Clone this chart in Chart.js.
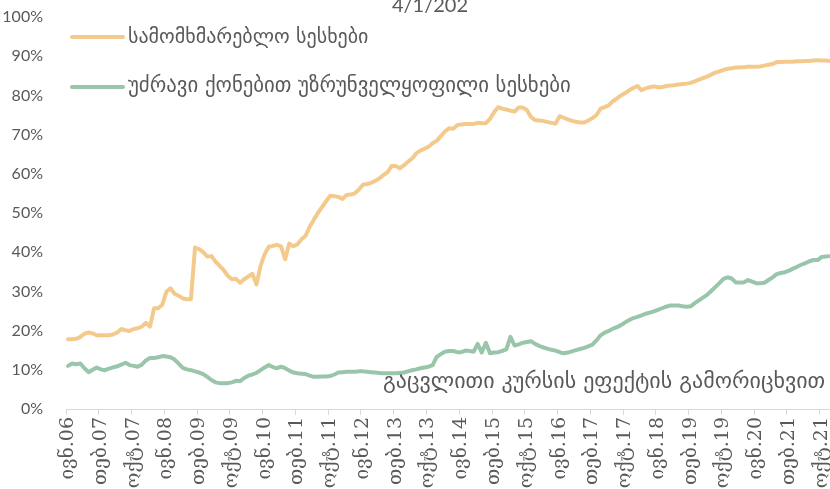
<!DOCTYPE html>
<html>
<head>
<meta charset="utf-8">
<script src="https://cdn.jsdelivr.net/npm/chart.js@4"></script>
<style>
  html, body { margin: 0; padding: 0; background: #fff; overflow: hidden; }
  #wrap { position: relative; width: 830px; height: 489px; overflow: hidden; }
  #chart { position: absolute; left: 0; top: 0; }
  .txt { position: absolute; white-space: nowrap; color: #595959; font-family: "DejaVu Sans", sans-serif; }
  .swatch { position: absolute; width: 55px; height: 4px; border-radius: 2px; }
</style>
</head>
<body>
<div id="wrap">
  <canvas id="chart" width="834" height="489"></canvas>
  <div class="txt" id="title" style="left:0;width:860px;text-align:center;top:-8px;font-family:Lato, sans-serif;font-size:20px;">4/1/202</div>
  <div class="swatch" id="sw1" style="left:70px;top:35px;"></div>
  <div class="txt" id="lg1" style="left:128px;top:24px;font-size:20px;"></div>
  <div class="swatch" id="sw2" style="left:70px;top:85px;"></div>
  <div class="txt" id="lg2" style="left:128px;top:73px;font-size:20.8px;"></div>
  <div class="txt" id="note" style="left:383px;top:368px;font-size:22px;">გაცვლითი კურსის ეფექტის გამორიცხვით</div>
</div>
<script>
// სერიების სახელები და ფერები
const seriesNames = ['სამომხმარებლო სესხები', 'უძრავი ქონებით უზრუნველყოფილი სესხები'];
const seriesColors = ['#f4ca8c', '#99c5ab'];

// თვეები (ივნ.2006 - დეკ.2021), ნიშნული ყოველ მე-8 თვეზე
const monthNames = ['იან', 'თებ', 'მარ', 'აპრ', 'მაი', 'ივნ', 'ივლ', 'აგვ', 'სექ', 'ოქტ', 'ნოე', 'დეკ'];
const startYear = 2006, startMonth = 5, monthCount = 187, labelStep = 8;

// სამომხმარებლო სესხები (%)
const consumer = [
  17.8, 17.8, 17.9, 18.4, 19.2, 19.5, 19.3, 18.8, 18.8, 18.8,
  18.8, 19.0, 19.5, 20.4, 20.1, 19.9, 20.4, 20.6, 21.0, 22.0,
  21.0, 25.7, 25.7, 26.6, 29.9, 30.8, 29.4, 28.9, 28.2, 28.0,
  28.0, 41.2, 40.8, 40.0, 38.9, 39.0, 37.6, 36.5, 35.4, 34.0,
  33.1, 33.2, 32.2, 33.1, 33.8, 34.5, 31.8, 36.5, 39.5, 41.4,
  41.6, 41.9, 41.5, 38.2, 42.2, 41.5, 42.0, 43.3, 44.2, 46.5,
  48.3, 50.0, 51.5, 53.0, 54.4, 54.3, 54.1, 53.6, 54.6, 54.7,
  55.0, 56.0, 57.2, 57.4, 57.7, 58.2, 58.8, 59.7, 60.4, 62.0,
  62.0, 61.4, 62.2, 63.1, 63.9, 65.2, 65.9, 66.4, 66.9, 67.8,
  68.4, 69.6, 70.8, 71.6, 71.5, 72.4, 72.6, 72.7, 72.7, 72.7,
  73.0, 72.9, 72.9, 74.0, 75.7, 77.0, 76.6, 76.4, 76.1, 75.9,
  76.9, 76.9, 76.3, 74.5, 73.7, 73.6, 73.5, 73.2, 73.0, 72.8,
  74.7, 74.3, 73.9, 73.5, 73.3, 73.1, 73.1, 73.6, 74.2, 75.0,
  76.6, 77.0, 77.5, 78.5, 79.2, 80.0, 80.6, 81.3, 81.9, 82.4,
  81.3, 81.8, 82.1, 82.3, 82.1, 82.1, 82.4, 82.5, 82.6, 82.8,
  82.9, 83.0, 83.2, 83.6, 84.0, 84.4, 84.8, 85.3, 85.8, 86.1,
  86.5, 86.8, 86.9, 87.1, 87.1, 87.2, 87.3, 87.3, 87.3, 87.4,
  87.6, 87.8, 88.0, 88.5, 88.5, 88.6, 88.6, 88.6, 88.7, 88.7,
  88.8, 88.8, 88.9, 89.0, 88.9, 88.9, 88.8
];

// უძრავი ქონებით უზრუნველყოფილი სესხები (%)
const mortgage = [
  11.0, 11.6, 11.4, 11.6, 10.4, 9.4, 10.0, 10.6, 10.1, 9.9,
  10.3, 10.6, 10.9, 11.3, 11.8, 11.2, 11.0, 10.8, 11.3, 12.4,
  13.0, 13.0, 13.2, 13.5, 13.4, 13.2, 12.6, 11.6, 10.5, 10.1,
  9.9, 9.6, 9.3, 8.9, 8.2, 7.4, 6.8, 6.6, 6.6, 6.6,
  6.8, 7.2, 7.1, 7.9, 8.5, 8.8, 9.2, 9.9, 10.6, 11.2,
  10.7, 10.4, 10.8, 10.4, 9.8, 9.3, 9.1, 9.0, 8.9, 8.5,
  8.2, 8.2, 8.3, 8.3, 8.4, 8.8, 9.3, 9.4, 9.5, 9.5,
  9.5, 9.6, 9.6, 9.5, 9.4, 9.3, 9.2, 9.1, 9.1, 9.1,
  9.1, 9.2, 9.3, 9.6, 9.9, 10.1, 10.4, 10.6, 10.8, 11.2,
  13.3, 14.0, 14.6, 14.8, 14.8, 14.5, 14.5, 14.9, 14.8, 14.6,
  16.6, 14.4, 16.9, 14.2, 14.4, 14.5, 14.8, 15.2, 18.4, 16.2,
  16.5, 16.9, 17.1, 17.3, 16.6, 16.1, 15.7, 15.4, 15.1, 14.9,
  14.5, 14.2, 14.4, 14.7, 15.0, 15.3, 15.6, 16.0, 16.4, 17.5,
  18.8, 19.5, 19.9, 20.5, 20.9, 21.4, 22.1, 22.7, 23.2, 23.5,
  23.9, 24.3, 24.6, 24.9, 25.3, 25.7, 26.1, 26.4, 26.4, 26.4,
  26.2, 26.1, 26.2, 27.0, 27.7, 28.4, 29.1, 30.1, 31.1, 32.1,
  33.2, 33.6, 33.3, 32.3, 32.3, 32.3, 32.9, 32.5, 32.1, 32.1,
  32.2, 32.9, 33.6, 34.4, 34.7, 34.9, 35.3, 35.8, 36.3, 36.8,
  37.2, 37.7, 38.0, 38.0, 38.8, 38.9, 39.0
];

// კატეგორიები: "ივნ.06" ფორმატი
const labels = [];
for (let i = 0; i < monthCount; i++) {
  const m = (startMonth + i) % 12;
  const y = startYear + Math.floor((startMonth + i) / 12);
  labels.push(monthNames[m] + '.' + String(y % 100).padStart(2, '0'));
}

// ლეგენდა HTML-ში
document.getElementById('lg1').innerText = seriesNames[0];
document.getElementById('lg2').innerText = seriesNames[1];
document.getElementById('sw1').style.background = seriesColors[0];
document.getElementById('sw2').style.background = seriesColors[1];

new Chart(document.getElementById('chart'), {
  type: 'line',
  data: {
    labels: labels,
    datasets: [
      { label: seriesNames[0], data: consumer, borderColor: seriesColors[0], borderWidth: 4, pointRadius: 0, borderJoinStyle: 'round', borderCapStyle: 'round' },
      { label: seriesNames[1], data: mortgage, borderColor: seriesColors[1], borderWidth: 4, pointRadius: 0, borderJoinStyle: 'round', borderCapStyle: 'round' }
    ]
  },
  options: {
    responsive: false,
    animation: false,
    layout: { padding: { top: 17, right: 2, left: 0, bottom: 0 } },
    plugins: { legend: { display: false }, tooltip: { enabled: false } },
    scales: {
      x: {
        offset: true,
        afterFit: (scale) => {
          scale.height = 80;
          scale.paddingLeft = 0;
          scale.paddingRight = 0;
        },
        border: { color: '#d9d9d9', width: 1 },
        grid: {
          offset: true,
          drawOnChartArea: false,
          tickLength: 6,
          tickColor: (ctx) => (ctx.index % labelStep === 0 ? '#d9d9d9' : 'rgba(0,0,0,0)')
        },
        ticks: {
          autoSkip: false,
          minRotation: 90,
          maxRotation: 90,
          padding: 2,
          color: '#595959',
          font: { family: 'DejaVu Serif', size: 19 },
          callback: (v, i) => (i % labelStep === 0 ? labels[i] : '')
        }
      },
      y: {
        min: 0,
        max: 100,
        afterFit: (scale) => {
          scale.width = 66;
          scale.paddingTop = 0;
          scale.paddingBottom = 0;
        },
        border: { display: false },
        grid: { display: false },
        ticks: {
          stepSize: 10,
          padding: 15,
          color: '#595959',
          font: { family: 'Lato', size: 16 },
          callback: (v) => v + '%'
        }
      }
    }
  }
});
</script>
</body>
</html>
